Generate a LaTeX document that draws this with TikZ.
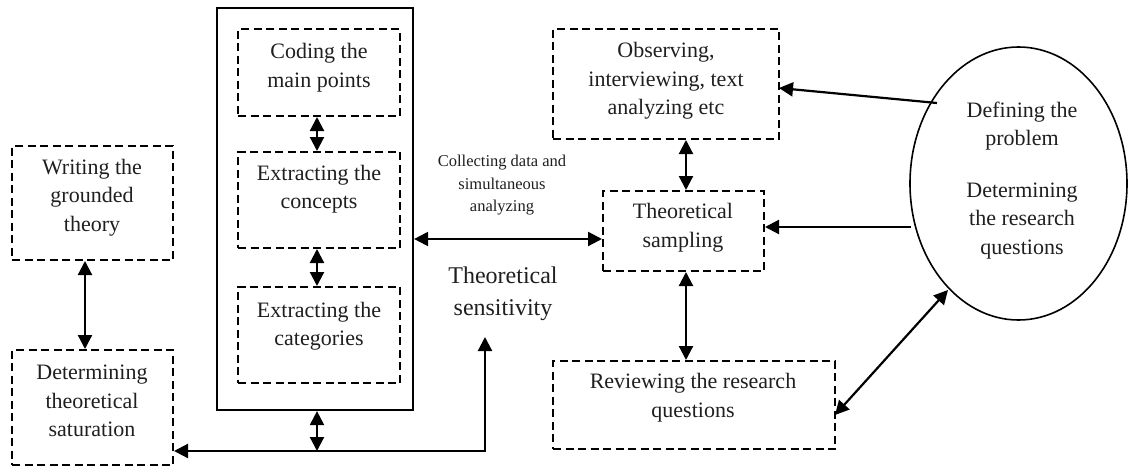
\documentclass[tikz,border=0pt]{standalone}
\usepackage{fontspec}
\setmainfont{Liberation Serif}
\usetikzlibrary{arrows.meta,shapes.geometric}
\begin{document}
\begin{tikzpicture}[x=1pt,y=-1pt,
  dbox/.style={draw,line width=2pt,dash pattern=on 8pt off 4.5pt,inner sep=0pt},
  sbox/.style={draw,line width=2.2pt,inner sep=0pt},
  txt/.style={align=center,inner sep=0pt,text=black!88,font=\fontsize{22}{28.5}\selectfont},
  big/.style={align=center,inner sep=0pt,text=black!88,font=\fontsize{24}{32}\selectfont},
  small/.style={align=center,inner sep=0pt,text=black!88,font=\fontsize{16.5}{22.5}\selectfont},
  arr/.style={line width=2.2pt,-{Triangle[length=14pt,width=14pt]}},
  dar/.style={line width=2.2pt,{Triangle[length=14pt,width=14pt]}-{Triangle[length=14pt,width=14pt]}}
]
\useasboundingbox (0,0) rectangle (1128,466);
% boxes
\node[dbox,minimum width=161pt,minimum height=114pt] (write) at (92.5,203) {};
\node[dbox,minimum width=161pt,minimum height=115pt] (sat) at (92.5,407.5) {};
\node[sbox,minimum width=196pt,minimum height=402pt] (bigbox) at (315,209) {};
\node[dbox,minimum width=162pt,minimum height=87pt] (code) at (319,72.5) {};
\node[dbox,minimum width=162pt,minimum height=96pt] (conc) at (319,200) {};
\node[dbox,minimum width=162pt,minimum height=96pt] (cat) at (319,335) {};
\node[dbox,minimum width=226pt,minimum height=110pt] (obs) at (666,84) {};
\node[dbox,minimum width=161pt,minimum height=80pt] (samp) at (683.5,231) {};
\node[dbox,minimum width=282pt,minimum height=88pt] (rev) at (694,405) {};
\node[draw,line width=1.6pt,ellipse,inner sep=0pt,minimum width=217pt,minimum height=273pt] (ell) at (1018.5,183.5) {};
% texts
\node[txt] (twrite) at (92,197.5) {Writing the\\grounded\\theory};
\node[txt] (tsat) at (92,401) {Determining\\theoretical\\saturation};
\node[txt] (tcode) at (319,67.5) {Coding the\\main points};
\node[txt] (tconc) at (319,189) {Extracting the\\concepts};
\node[txt] (tcat) at (319,326) {Extracting the\\categories};
\node[txt] (tobs) at (666,81) {Observing,\\interviewing, text\\analyzing etc};
\node[txt] (tsamp) at (683,227.5) {Theoretical\\sampling};
\node[txt] (trev) at (693,397.5) {Reviewing the research\\questions};
\node[txt] (tdef) at (1022,126) {Defining the\\problem};
\node[txt] (tdet) at (1022,221) {Determining\\the research\\questions};
\node[small] (tcol) at (502,185.5) {Collecting data and\\simultaneous\\analyzing};
\node[big] (tsens) at (503,294) {Theoretical\\sensitivity};
% helper coordinates
\coordinate (xa) at (85,0);
\coordinate (yh) at (0,239);
\coordinate (xs) at (686,0);
\coordinate (e1) at (937,103);
\coordinate (o1) at (779,88);
\coordinate (e2) at (911,227);
\coordinate (e3) at (948,290);
\coordinate (r1) at (835,415);
\coordinate (up) at (485,337);
\coordinate (yb) at (0,451);
\coordinate (xb) at (317,0);
% connectors
\draw[dar] (xa |- write.south) -- (xa |- sat.north);
\draw[dar] (xb |- code.south) -- (xb |- conc.north);
\draw[dar] (xb |- conc.south) -- (xb |- cat.north);
\draw[dar] (bigbox.east |- yh) -- (samp.west |- yh);
\draw[dar] (xs |- obs.south) -- (xs |- samp.north);
\draw[dar] (xs |- samp.south) -- (xs |- rev.north);
\draw[arr] (e1) -- (o1);
\draw[arr] (e2) -- (samp.east |- e2);
\draw[dar] (r1) -- (e3);
\draw[dar] (up) |- (sat.east |- yb);
\draw[dar] (xb |- bigbox.south) -- (xb |- yb);
\end{tikzpicture}
\end{document}
